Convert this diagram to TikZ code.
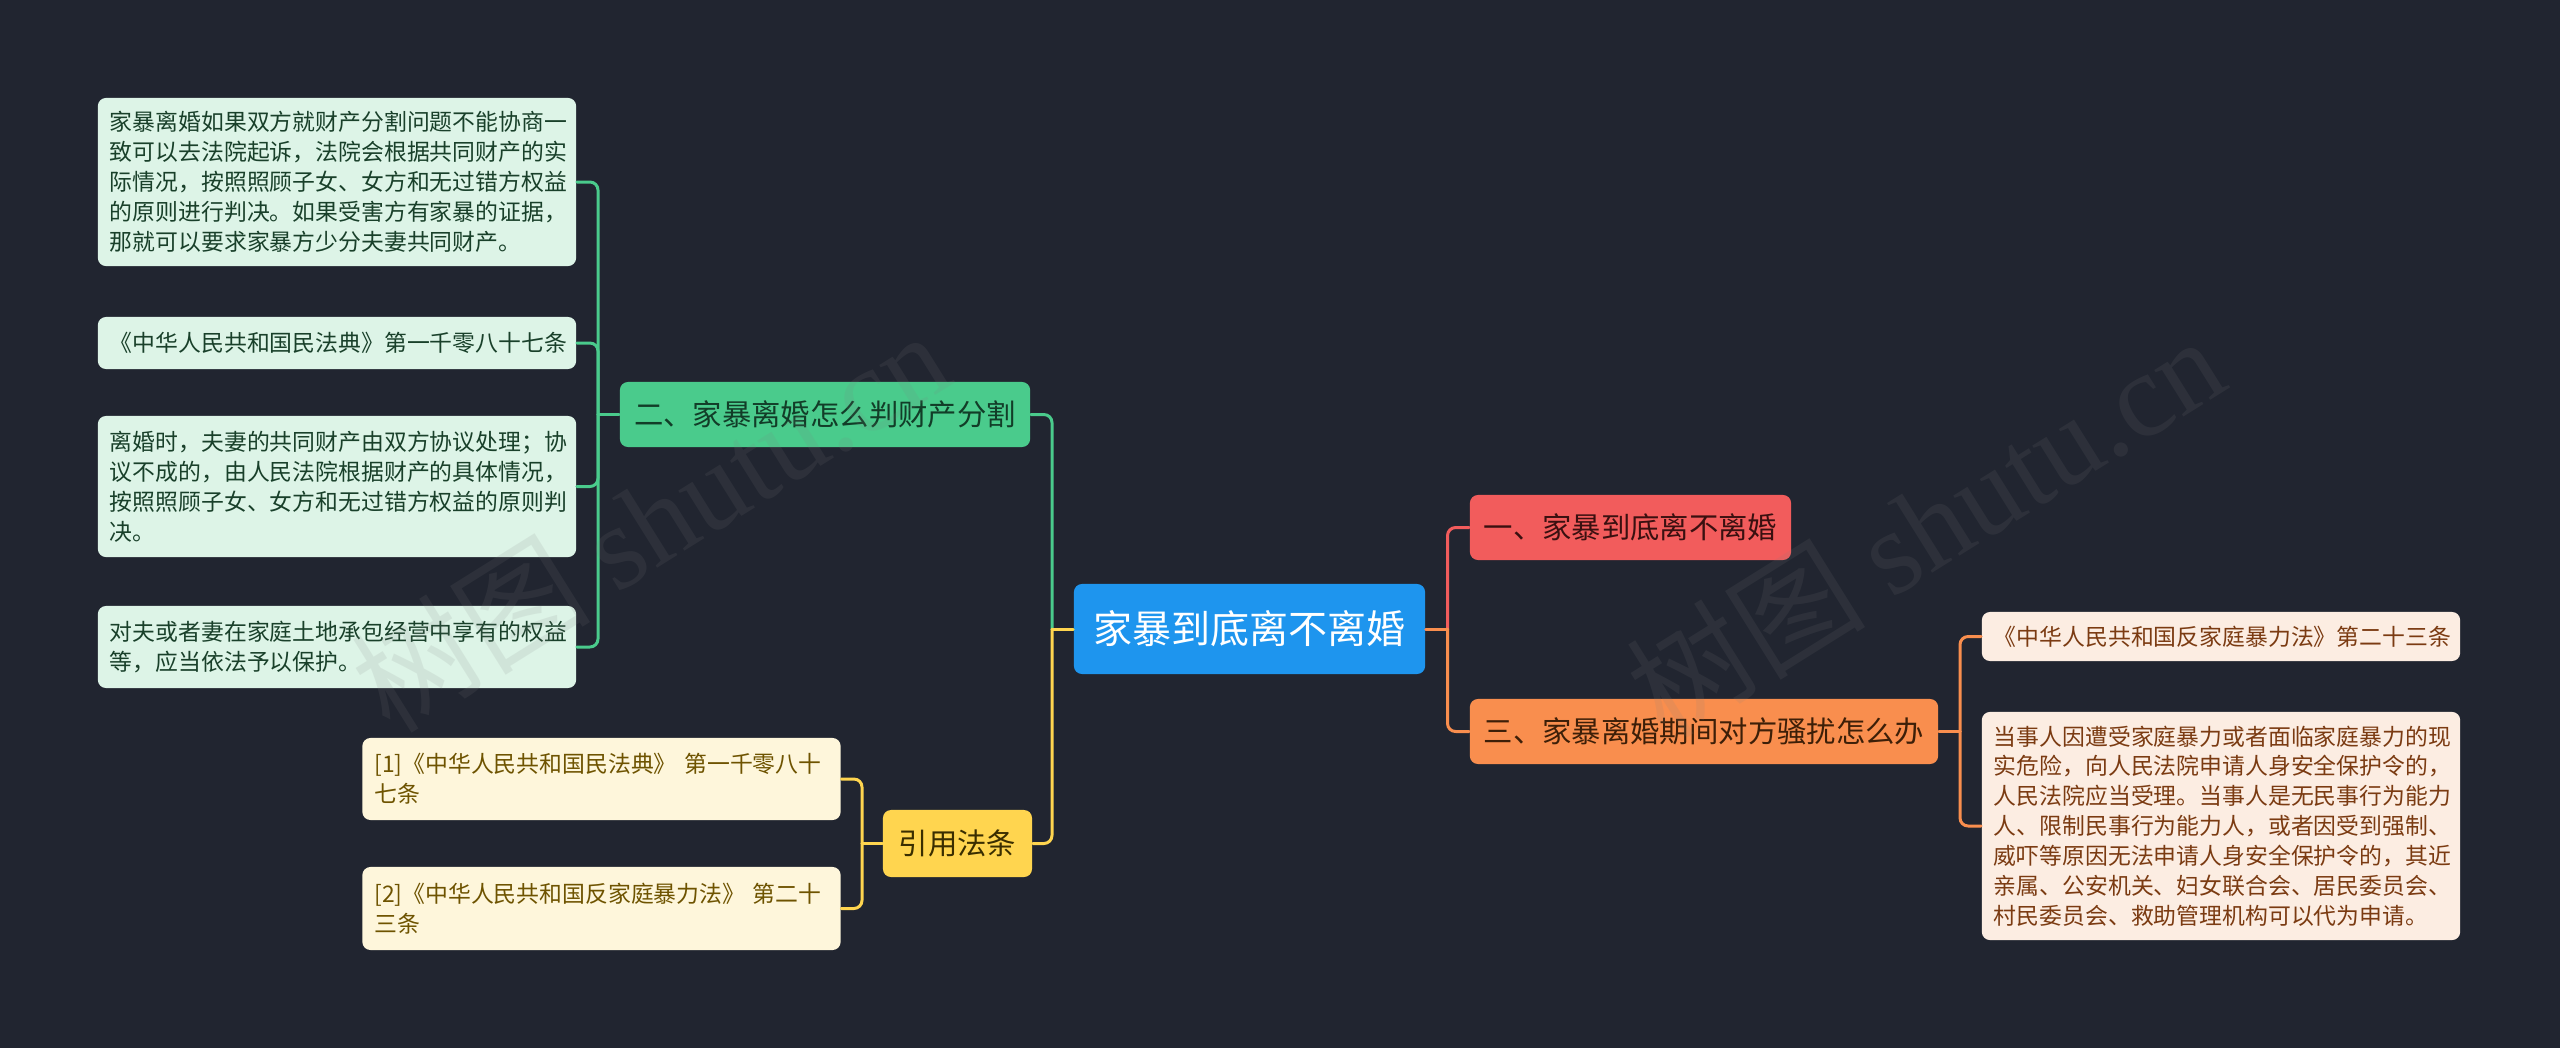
\documentclass[tikz,border=0pt]{standalone}
\usepackage{fontspec}
\setmainfont{Noto Sans CJK SC}
\newfontfamily\wmfont{Liberation Serif}
\definecolor{bgc}{HTML}{212530}
\definecolor{rootc}{HTML}{1E95EE}
\definecolor{redc}{HTML}{F25C5C}
\definecolor{orgc}{HTML}{F98E4E}
\definecolor{grnc}{HTML}{4ACB8C}
\definecolor{yelc}{HTML}{FFD54F}
\definecolor{gleaf}{HTML}{DDF4E7}
\definecolor{gtext}{HTML}{19402A}
\definecolor{yleaf}{HTML}{FEF6DB}
\definecolor{ytext}{HTML}{6E5300}
\definecolor{oleaf}{HTML}{FCEDE2}
\definecolor{otext}{HTML}{7B3B12}
\definecolor{rtext}{HTML}{3A1010}
\definecolor{btext}{HTML}{3D1F08}
\definecolor{dgtext}{HTML}{123D28}
\definecolor{dytext}{HTML}{3A2E00}
\begin{document}
\begin{tikzpicture}[x=0.01cm,y=-0.01cm,line join=round,line cap=round]
\tikzset{box/.style={rounded corners=2.3pt,inner xsep=0.12cm,inner ysep=0pt},
leaf/.style={box,align=left,text width=4.54cm,minimum height=#1,font=\fontsize{6.5}{8.5}\selectfont},
topic/.style={box,align=center,minimum height=0.65cm,font=\fontsize{8.35}{10}\selectfont},
link/.style={line width=0.85pt},
elbow/.style={link,rounded corners=2.3pt},
wm/.style={text=gray,text opacity=0.13,rotate=32,font=\fontsize{34}{34}\selectfont}}
\fill[bgc] (0,0) rectangle (2560,1048);
\node[box,fill=rootc,text=white,minimum width=3.51cm,minimum height=0.9cm,font=\fontsize{11.1}{13}\selectfont] (root) at (1249.5,629) {家暴到底离不离婚};
\node[topic,fill=redc,text=rtext,minimum width=3.21cm] (b1) at (1630.5,527.5) {一、家暴到底离不离婚};
\node[topic,fill=orgc,text=btext,minimum width=4.68cm] (b3) at (1704,731.5) {三、家暴离婚期间对方骚扰怎么办};
\node[topic,fill=grnc,text=dgtext,minimum width=4.10cm] (b2) at (825,414.5) {二、家暴离婚怎么判财产分割};
\node[topic,fill=yelc,text=dytext,minimum width=1.49cm,minimum height=0.67cm] (b4) at (957.5,843.5) {引用法条};
\node[leaf=1.68cm,fill=gleaf,text=gtext] (l1) at (337,182) {家暴离婚如果双方就财产分割问题不能协商一\\致可以去法院起诉，法院会根据共同财产的实\\际情况，按照照顾子女、女方和无过错方权益\\的原则进行判决。如果受害方有家暴的证据，\\那就可以要求家暴方少分夫妻共同财产。};
\node[leaf=0.52cm,fill=gleaf,text=gtext] (l2) at (337,343) {《中华人民共和国民法典》第一千零八十七条};
\node[leaf=1.41cm,fill=gleaf,text=gtext] (l3) at (337,486.5) {离婚时，夫妻的共同财产由双方协议处理；协\\议不成的，由人民法院根据财产的具体情况，\\按照照顾子女、女方和无过错方权益的原则判\\决。};
\node[leaf=0.82cm,fill=gleaf,text=gtext] (l4) at (337,647) {对夫或者妻在家庭土地承包经营中享有的权益\\等，应当依法予以保护。};
\node[leaf=0.82cm,fill=yleaf,text=ytext] (c1) at (601.5,779) {[1]《中华人民共和国民法典》 第一千零八十\\七条};
\node[leaf=0.83cm,fill=yleaf,text=ytext] (c2) at (601.5,908.5) {[2]《中华人民共和国反家庭暴力法》 第二十\\三条};
\node[leaf=0.49cm,fill=oleaf,text=otext] (r1) at (2221,636.5) {《中华人民共和国反家庭暴力法》第二十三条};
\node[leaf=2.28cm,fill=oleaf,text=otext] (r2) at (2221,826) {当事人因遭受家庭暴力或者面临家庭暴力的现\\实危险，向人民法院申请人身安全保护令的，\\人民法院应当受理。当事人是无民事行为能力\\人、限制民事行为能力人，或者因受到强制、\\威吓等原因无法申请人身安全保护令的，其近\\亲属、公安机关、妇女联合会、居民委员会、\\村民委员会、救助管理机构可以代为申请。};
\coordinate (jl) at (1052,629);
\coordinate (jr) at (1447.5,629);
\coordinate (j2) at (598,414.5);
\coordinate (j4) at (862,843.5);
\coordinate (j3) at (1960,731.5);
\draw[elbow,grnc] (jl) |- (b2.east);
\draw[link,grnc] (root.west) -- (jl);
\draw[elbow,yelc] (jl) |- (b4.east);
\draw[link,yelc] (root.west) -- (jl);
\draw[elbow,redc] (jr) |- (b1.west);
\draw[link,redc] (root.east) -- (jr);
\draw[elbow,orgc] (jr) |- (b3.west);
\draw[link,orgc] (root.east) -- (jr);
\foreach \n in {l1,l2,l3,l4} \draw[elbow,grnc] (j2) |- (\n.east);
\draw[link,grnc] (b2.west) -- (j2);
\foreach \n in {c1,c2} \draw[elbow,yelc] (j4) |- (\n.east);
\draw[link,yelc] (b4.west) -- (j4);
\foreach \n in {r1,r2} \draw[elbow,orgc] (j3) |- (\n.west);
\draw[link,orgc] (b3.east) -- (j3);
\node[wm] (wm1) at (650,520) {树图 {\wmfont shutu.cn}};
\node[wm] (wm2) at (1925,525) {树图 {\wmfont shutu.cn}};
\end{tikzpicture}
\end{document}
